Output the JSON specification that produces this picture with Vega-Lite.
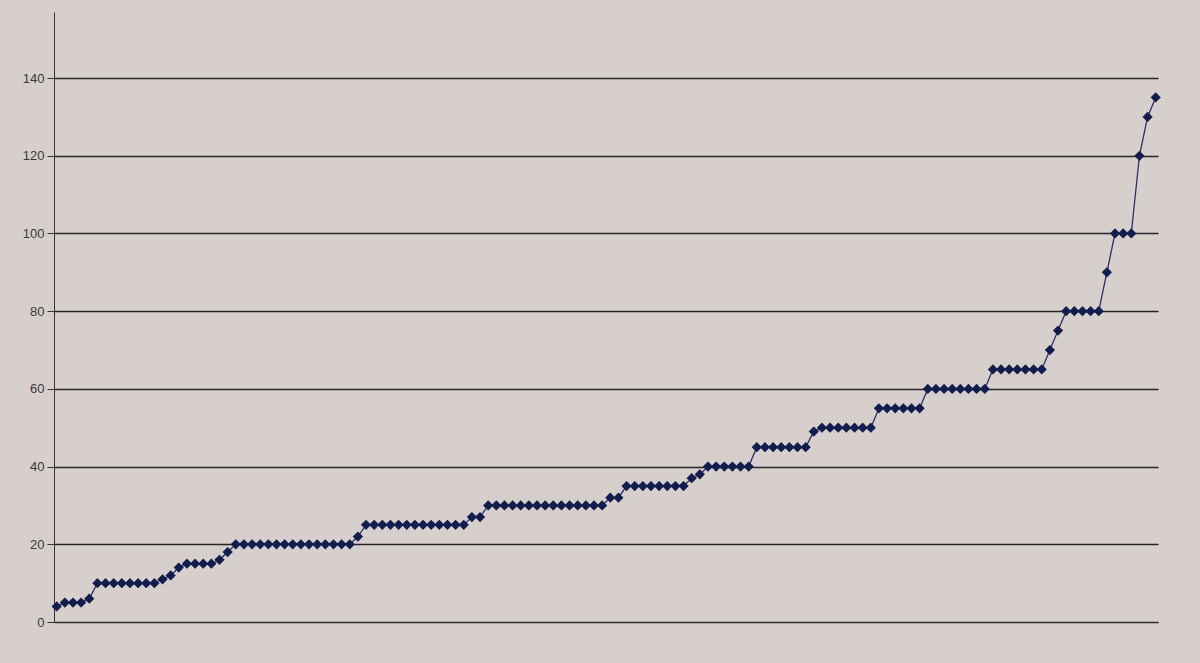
{
  "$schema": "https://vega.github.io/schema/vega-lite/v6.json",
  "autosize": {"type": "none"},
  "width": 1104,
  "height": 610,
  "padding": {"left": 54, "top": 12, "right": 42, "bottom": 41},
  "background": "#d6cfcb",
  "config": {"view": {"stroke": null}},
  "data": {"values": [
    {"i":0,"v":4},{"i":1,"v":5},{"i":2,"v":5},{"i":3,"v":5},{"i":4,"v":6},
    {"i":5,"v":10},{"i":6,"v":10},{"i":7,"v":10},{"i":8,"v":10},{"i":9,"v":10},{"i":10,"v":10},{"i":11,"v":10},
    {"i":12,"v":10},{"i":13,"v":11},{"i":14,"v":12},{"i":15,"v":14},
    {"i":16,"v":15},{"i":17,"v":15},{"i":18,"v":15},{"i":19,"v":15},{"i":20,"v":16},{"i":21,"v":18},
    {"i":22,"v":20},{"i":23,"v":20},{"i":24,"v":20},{"i":25,"v":20},{"i":26,"v":20},{"i":27,"v":20},{"i":28,"v":20},{"i":29,"v":20},{"i":30,"v":20},{"i":31,"v":20},{"i":32,"v":20},{"i":33,"v":20},{"i":34,"v":20},{"i":35,"v":20},{"i":36,"v":20},
    {"i":37,"v":22},
    {"i":38,"v":25},{"i":39,"v":25},{"i":40,"v":25},{"i":41,"v":25},{"i":42,"v":25},{"i":43,"v":25},{"i":44,"v":25},{"i":45,"v":25},{"i":46,"v":25},{"i":47,"v":25},{"i":48,"v":25},{"i":49,"v":25},{"i":50,"v":25},
    {"i":51,"v":27},{"i":52,"v":27},
    {"i":53,"v":30},{"i":54,"v":30},{"i":55,"v":30},{"i":56,"v":30},{"i":57,"v":30},{"i":58,"v":30},{"i":59,"v":30},{"i":60,"v":30},{"i":61,"v":30},{"i":62,"v":30},{"i":63,"v":30},{"i":64,"v":30},{"i":65,"v":30},{"i":66,"v":30},{"i":67,"v":30},
    {"i":68,"v":32},{"i":69,"v":32},
    {"i":70,"v":35},{"i":71,"v":35},{"i":72,"v":35},{"i":73,"v":35},{"i":74,"v":35},{"i":75,"v":35},{"i":76,"v":35},{"i":77,"v":35},
    {"i":78,"v":37},{"i":79,"v":38},
    {"i":80,"v":40},{"i":81,"v":40},{"i":82,"v":40},{"i":83,"v":40},{"i":84,"v":40},{"i":85,"v":40},
    {"i":86,"v":45},{"i":87,"v":45},{"i":88,"v":45},{"i":89,"v":45},{"i":90,"v":45},{"i":91,"v":45},{"i":92,"v":45},
    {"i":93,"v":49},
    {"i":94,"v":50},{"i":95,"v":50},{"i":96,"v":50},{"i":97,"v":50},{"i":98,"v":50},{"i":99,"v":50},{"i":100,"v":50},
    {"i":101,"v":55},{"i":102,"v":55},{"i":103,"v":55},{"i":104,"v":55},{"i":105,"v":55},{"i":106,"v":55},
    {"i":107,"v":60},{"i":108,"v":60},{"i":109,"v":60},{"i":110,"v":60},{"i":111,"v":60},{"i":112,"v":60},{"i":113,"v":60},{"i":114,"v":60},
    {"i":115,"v":65},{"i":116,"v":65},{"i":117,"v":65},{"i":118,"v":65},{"i":119,"v":65},{"i":120,"v":65},{"i":121,"v":65},
    {"i":122,"v":70},{"i":123,"v":75},
    {"i":124,"v":80},{"i":125,"v":80},{"i":126,"v":80},{"i":127,"v":80},{"i":128,"v":80},
    {"i":129,"v":90},
    {"i":130,"v":100},{"i":131,"v":100},{"i":132,"v":100},
    {"i":133,"v":120},{"i":134,"v":130},{"i":135,"v":135}
  ]},
  "encoding": {
    "x": {
      "field": "i", "type": "quantitative",
      "scale": {"domain": [-0.33, 135.28], "nice": false, "zero": false},
      "axis": {"labels": false, "ticks": false, "grid": false, "title": null, "domainColor": "#333333", "domainWidth": 1}
    },
    "y": {
      "field": "v", "type": "quantitative",
      "scale": {"domain": [0, 157], "nice": false},
      "axis": {
        "values": [0, 20, 40, 60, 80, 100, 120, 140],
        "grid": true, "gridColor": "#262626", "gridWidth": 1.5,
        "tickSize": 7, "tickColor": "#333333", "tickWidth": 1,
        "labelFont": "Liberation Sans", "labelFontSize": 13, "labelColor": "#3a3a3a", "labelPadding": 3,
        "domainColor": "#333333", "domainWidth": 1,
        "title": null
      }
    }
  },
  "layer": [
    {"mark": {"type": "line", "color": "#2c2f6b", "strokeWidth": 1.3}},
    {"mark": {"type": "point", "shape": "diamond", "filled": true, "size": 105, "color": "#121d4d", "opacity": 1}}
  ]
}
